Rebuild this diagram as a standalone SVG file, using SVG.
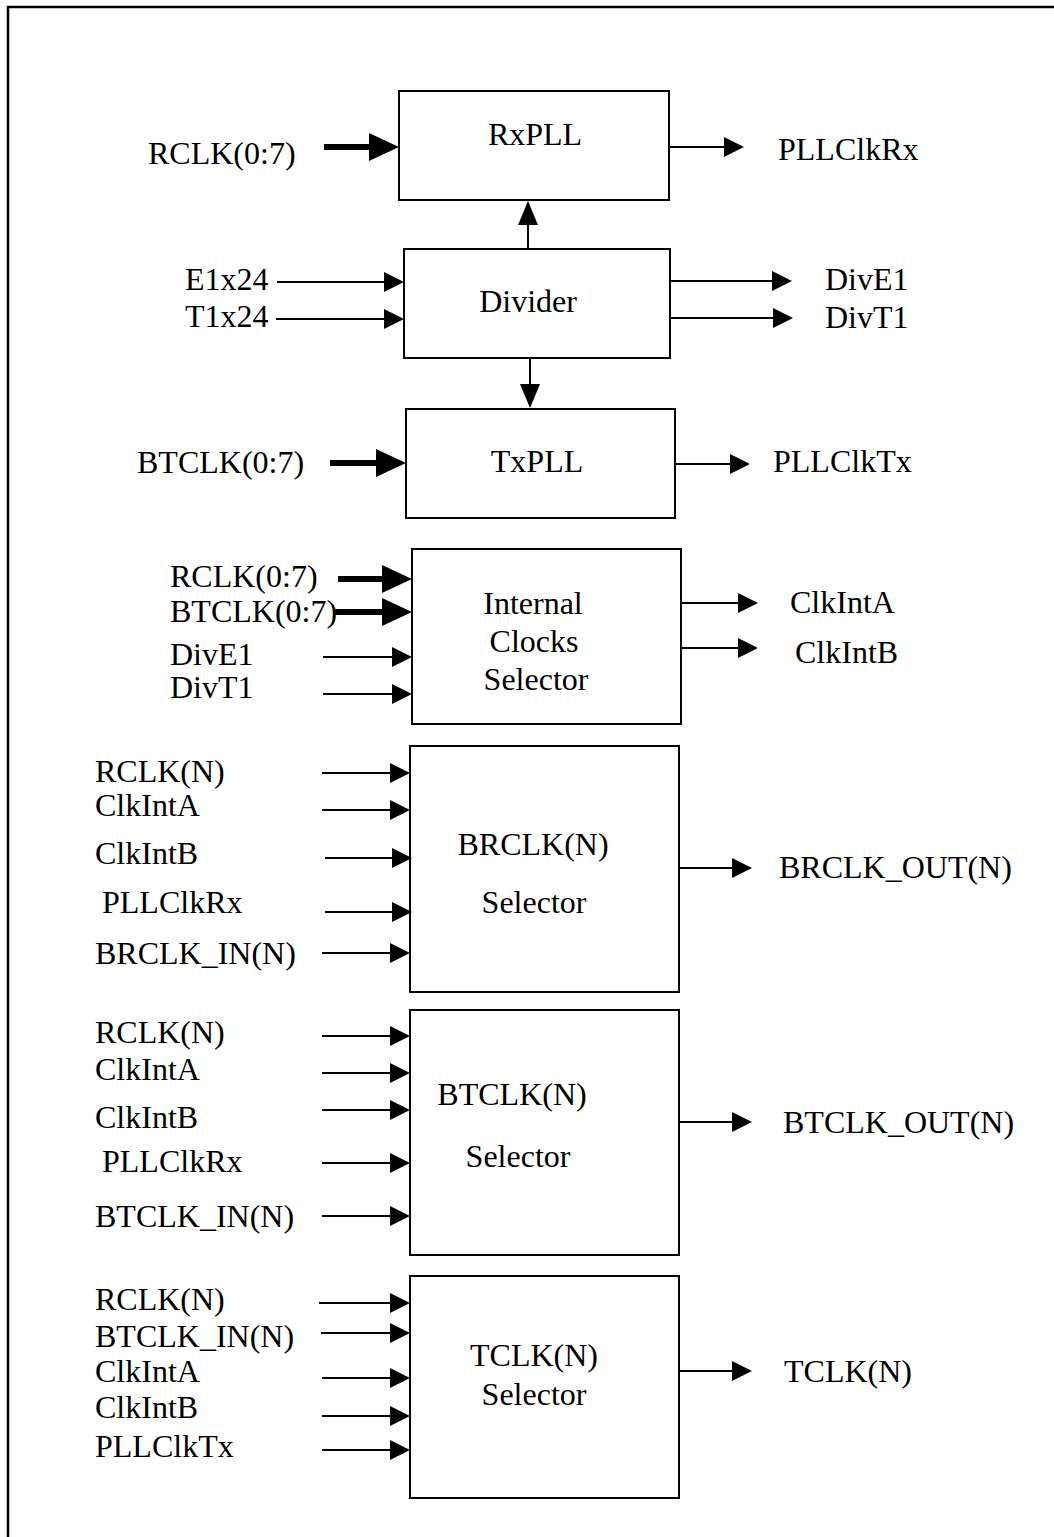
<svg xmlns="http://www.w3.org/2000/svg" width="1054" height="1537" viewBox="0 0 1054 1537">
<style>
text{font-family:"Liberation Serif","Times New Roman",serif;font-size:32px;fill:#000}
.c{text-anchor:middle}
.box{fill:#fff;stroke:#000;stroke-width:2}
.ln{stroke:#000;stroke-width:2;fill:none;marker-end:url(#a)}
.lv{stroke:#000;stroke-width:2;fill:none;marker-end:url(#av)}
.lt{stroke:#000;stroke-width:6;fill:none;marker-end:url(#at)}
</style>
<defs>
<marker id="a" markerUnits="userSpaceOnUse" markerWidth="20" markerHeight="20" refX="0" refY="10" orient="auto"><path d="M0,0 L20,10 L0,20 z" fill="#000"/></marker>
<marker id="av" markerUnits="userSpaceOnUse" markerWidth="24" markerHeight="20" refX="0" refY="10" orient="auto"><path d="M0,0 L24,10 L0,20 z" fill="#000"/></marker>
<marker id="at" markerUnits="userSpaceOnUse" markerWidth="30" markerHeight="28" refX="0" refY="14" orient="auto"><path d="M0,0 L30,14 L0,28 z" fill="#000"/></marker>
</defs>
<rect x="0" y="0" width="1054" height="1537" fill="#fff"/>
<path d="M8,1540 V7 H1060" fill="none" stroke="#000" stroke-width="2.5"/>

<g id="rxpll"><rect class="box" x="399" y="91" width="270" height="109"/><text class="c" x="535" y="145">RxPLL</text></g>
<g id="divider"><rect class="box" x="404" y="249" width="266" height="109"/><text class="c" x="528" y="312">Divider</text></g>
<g id="txpll"><rect class="box" x="406" y="409" width="269" height="109"/><text class="c" x="537" y="472">TxPLL</text></g>
<g id="intsel"><rect class="box" x="412" y="549" width="269" height="175"/><text class="c" x="533" y="614">Internal</text><text class="c" x="534" y="652">Clocks</text><text class="c" x="536" y="690">Selector</text></g>
<g id="brclksel"><rect class="box" x="410" y="746" width="269" height="246"/><text class="c" x="533" y="855">BRCLK(N)</text><text class="c" x="534" y="913">Selector</text></g>
<g id="btclksel"><rect class="box" x="410" y="1010" width="269" height="245"/><text class="c" x="512" y="1105">BTCLK(N)</text><text class="c" x="518" y="1167">Selector</text></g>
<g id="tclksel"><rect class="box" x="410" y="1276" width="269" height="222"/><text class="c" x="534" y="1366">TCLK(N)</text><text class="c" x="534" y="1405">Selector</text></g>

<g id="labels">
<text x="148" y="164">RCLK(0:7)</text>
<text x="778" y="160">PLLClkRx</text>
<text x="185" y="290">E1x24</text>
<text x="185" y="327">T1x24</text>
<text x="825" y="290">DivE1</text>
<text x="825" y="328">DivT1</text>
<text x="137" y="473">BTCLK(0:7)</text>
<text x="773" y="472">PLLClkTx</text>
<text x="170" y="587">RCLK(0:7)</text>
<text x="170" y="622">BTCLK(0:7)</text>
<text x="170" y="665">DivE1</text>
<text x="170" y="698">DivT1</text>
<text x="790" y="613">ClkIntA</text>
<text x="795" y="663">ClkIntB</text>
<text x="95" y="782">RCLK(N)</text>
<text x="95" y="816">ClkIntA</text>
<text x="95" y="864">ClkIntB</text>
<text x="102" y="913">PLLClkRx</text>
<text x="95" y="964">BRCLK_IN(N)</text>
<text x="779" y="878">BRCLK_OUT(N)</text>
<text x="95" y="1043">RCLK(N)</text>
<text x="95" y="1080">ClkIntA</text>
<text x="95" y="1128">ClkIntB</text>
<text x="102" y="1172">PLLClkRx</text>
<text x="95" y="1227">BTCLK_IN(N)</text>
<text x="783" y="1133">BTCLK_OUT(N)</text>
<text x="95" y="1310">RCLK(N)</text>
<text x="95" y="1347">BTCLK_IN(N)</text>
<text x="95" y="1382">ClkIntA</text>
<text x="95" y="1418">ClkIntB</text>
<text x="95" y="1457">PLLClkTx</text>
<text x="784" y="1382">TCLK(N)</text>
</g>

<g id="connectors">
<line class="lt" x1="324" y1="147" x2="369" y2="147"/>
<line class="ln" x1="670" y1="147" x2="724" y2="147"/>
<line class="ln" x1="277" y1="282" x2="384" y2="282"/>
<line class="ln" x1="276" y1="319" x2="384" y2="319"/>
<line class="lv" x1="528" y1="249" x2="528" y2="225"/>
<line class="ln" x1="671" y1="281" x2="772" y2="281"/>
<line class="ln" x1="671" y1="318" x2="773" y2="318"/>
<line class="lv" x1="530" y1="358" x2="530" y2="384"/>
<line class="lt" x1="330" y1="463" x2="376" y2="463"/>
<line class="ln" x1="675" y1="464" x2="730" y2="464"/>
<line class="lt" x1="338" y1="579" x2="382" y2="579"/>
<line class="lt" x1="333" y1="612" x2="382" y2="612"/>
<line class="ln" x1="323" y1="657" x2="392" y2="657"/>
<line class="ln" x1="323" y1="694" x2="392" y2="694"/>
<line class="ln" x1="681" y1="603" x2="738" y2="603"/>
<line class="ln" x1="681" y1="648" x2="738" y2="648"/>
<line class="ln" x1="322" y1="773" x2="390" y2="773"/>
<line class="ln" x1="322" y1="810" x2="390" y2="810"/>
<line class="ln" x1="325" y1="858" x2="392" y2="858"/>
<line class="ln" x1="325" y1="912" x2="392" y2="912"/>
<line class="ln" x1="322" y1="953" x2="390" y2="953"/>
<line class="ln" x1="679" y1="868" x2="732" y2="868"/>
<line class="ln" x1="322" y1="1036" x2="390" y2="1036"/>
<line class="ln" x1="322" y1="1073" x2="390" y2="1073"/>
<line class="ln" x1="322" y1="1110" x2="390" y2="1110"/>
<line class="ln" x1="322" y1="1163" x2="390" y2="1163"/>
<line class="ln" x1="322" y1="1216" x2="390" y2="1216"/>
<line class="ln" x1="679" y1="1122" x2="732" y2="1122"/>
<line class="ln" x1="319" y1="1303" x2="390" y2="1303"/>
<line class="ln" x1="321" y1="1333" x2="390" y2="1333"/>
<line class="ln" x1="322" y1="1378" x2="390" y2="1378"/>
<line class="ln" x1="322" y1="1416" x2="390" y2="1416"/>
<line class="ln" x1="322" y1="1450" x2="390" y2="1450"/>
<line class="ln" x1="679" y1="1371" x2="732" y2="1371"/>
</g>
</svg>
